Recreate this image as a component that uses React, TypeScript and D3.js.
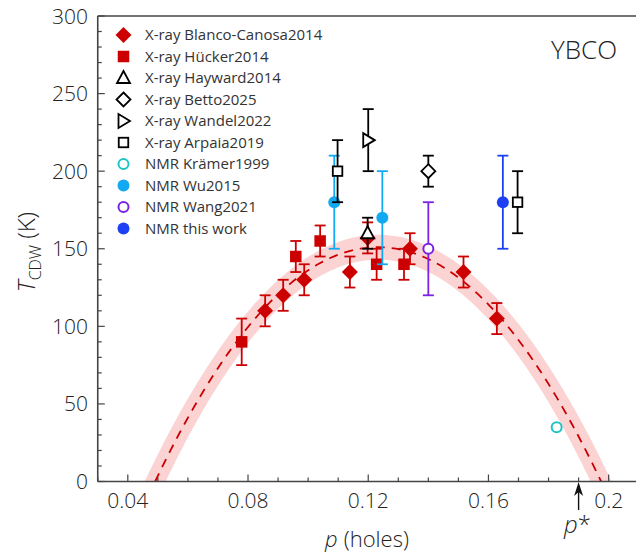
import React from "react";
import * as d3 from "d3";

// ---------- data ----------
const blancoP = [0.0857, 0.0917, 0.0987, 0.1139, 0.1198, 0.1339, 0.1517, 0.1628];
const blancoT = [110, 120, 130, 135, 157, 150, 135, 105];
const blancoE = [10, 10, 10, 10, 10, 10, 10, 10];

const huckerP = [0.0779, 0.0959, 0.104, 0.1228, 0.1319];
const huckerT = [90, 145, 155, 140, 140];
const huckerE = [15, 10, 10, 10, 10];

const haywardP = [0.1198];
const haywardT = [160];
const haywardE = [10];

const bettoP = [0.14];
const bettoT = [200];
const bettoE = [10];

const wandelP = [0.12];
const wandelT = [220];
const wandelE = [20];

const arpaiaP = [0.1098, 0.1697];
const arpaiaT = [200, 180];
const arpaiaE = [20, 20];

const kramerP = [0.1827];
const kramerT = [35];
const kramerE = [2];

const wuP = [0.1087, 0.1247];
const wuT = [180, 170];
const wuE = [30, 30];

const wangP = [0.14];
const wangT = [150];
const wangE = [30];

const thisP = [0.1648];
const thisT = [180];
const thisE = [30];

// parabolic guide (dome) parameters
const fitPeak = 151;
const fitCenter = 0.1233;
const fitHalfWidth = 0.0742;
const bandDT = 8;
const bandDW = 0.0035;

const xMajorTicks = [0.04, 0.08, 0.12, 0.16, 0.2];
const xTickLabels = ["0.04", "0.08", "0.12", "0.16", "0.2"];
const yMajorTicks = [0, 50, 100, 150, 200, 250, 300];
const pStar = 0.19;

const legendLabels = [
  "X-ray Blanco-Canosa2014",
  "X-ray Hücker2014",
  "X-ray Hayward2014",
  "X-ray Betto2025",
  "X-ray Wandel2022",
  "X-ray Arpaia2019",
  "NMR Krämer1999",
  "NMR Wu2015",
  "NMR Wang2021",
  "NMR this work",
];

// ---------- styling ----------
const RED = "#CC0000";
const LBLUE = "#12A8F2";
const CYAN = "#1EC4C4";
const PURPLE = "#7A22E6";
const BLUE = "#1E40F5";
const BLACK = "#000";
const FONT = "'Open Sans', 'Noto Sans', sans-serif";

type Shape = "diamond" | "square" | "triUp" | "triRight" | "circle";

function Marker({ shape, x, y, color, filled }: { shape: Shape; x: number; y: number; color: string; filled: boolean }) {
  const fill = filled ? color : "#fff";
  const sw = filled ? 0 : 1.8;
  if (shape === "diamond") {
    const h = filled ? 8 : 7;
    return <path d={`M${x},${y - h}L${x + h},${y}L${x},${y + h}L${x - h},${y}Z`} fill={fill} stroke={color} strokeWidth={sw} />;
  }
  if (shape === "square") {
    const s = filled ? 11.5 : 9.5;
    return <rect x={x - s / 2} y={y - s / 2} width={s} height={s} fill={fill} stroke={color} strokeWidth={sw} />;
  }
  if (shape === "triUp") {
    return <path d={`M${x},${y - 7}L${x + 6.5},${y + 5}L${x - 6.5},${y + 5}Z`} fill={fill} stroke={color} strokeWidth={sw} />;
  }
  if (shape === "triRight") {
    return <path d={`M${x + 6.5},${y}L${x - 5},${y - 7}L${x - 5},${y + 7}Z`} fill={fill} stroke={color} strokeWidth={sw} />;
  }
  const r = filled ? 6 : 5;
  return <circle cx={x} cy={y} r={r} fill={fill} stroke={color} strokeWidth={filled ? 0 : 2} />;
}

export default function App() {
  const W = 636;
  const H = 555;
  const x = d3.scaleLinear().domain([0.03, 0.21]).range([97.75, 638.7]);
  const y = d3.scaleLinear().domain([0, 300]).range([481.5, 16]);

  const series = [
    { P: blancoP, T: blancoT, E: blancoE, shape: "diamond" as Shape, color: RED, filled: true },
    { P: huckerP, T: huckerT, E: huckerE, shape: "square" as Shape, color: RED, filled: true },
    { P: kramerP, T: kramerT, E: kramerE, shape: "circle" as Shape, color: CYAN, filled: false },
    { P: wuP, T: wuT, E: wuE, shape: "circle" as Shape, color: LBLUE, filled: true },
    { P: wangP, T: wangT, E: wangE, shape: "circle" as Shape, color: PURPLE, filled: false },
    { P: thisP, T: thisT, E: thisE, shape: "circle" as Shape, color: BLUE, filled: true },
    { P: haywardP, T: haywardT, E: haywardE, shape: "triUp" as Shape, color: BLACK, filled: false },
    { P: bettoP, T: bettoT, E: bettoE, shape: "diamond" as Shape, color: BLACK, filled: false },
    { P: wandelP, T: wandelT, E: wandelE, shape: "triRight" as Shape, color: BLACK, filled: false },
    { P: arpaiaP, T: arpaiaT, E: arpaiaE, shape: "square" as Shape, color: BLACK, filled: false },
  ];

  const legendItems: { shape: Shape; color: string; filled: boolean }[] = [
    { shape: "diamond", color: RED, filled: true },
    { shape: "square", color: RED, filled: true },
    { shape: "triUp", color: BLACK, filled: false },
    { shape: "diamond", color: BLACK, filled: false },
    { shape: "triRight", color: BLACK, filled: false },
    { shape: "square", color: BLACK, filled: false },
    { shape: "circle", color: CYAN, filled: false },
    { shape: "circle", color: LBLUE, filled: true },
    { shape: "circle", color: PURPLE, filled: false },
    { shape: "circle", color: BLUE, filled: true },
  ];

  const dome = (p: number, A: number, w: number) => A * (1 - ((p - fitCenter) / w) ** 2);

  const pLo = fitCenter - fitHalfWidth;
  const pHi = fitCenter + fitHalfWidth;
  const fitPts = d3.range(0, 201).map((i) => {
    const p = pLo + ((pHi - pLo) * i) / 200;
    return [x(p), y(Math.max(0, dome(p, fitPeak, fitHalfWidth)))] as [number, number];
  });
  const fitPath = d3.line()(fitPts) || "";

  const wU = fitHalfWidth + bandDW;
  const wL = fitHalfWidth - bandDW;
  const upper = d3.range(0, 201).map((i) => {
    const p = fitCenter - wU + (2 * wU * i) / 200;
    return [x(p), y(Math.max(0, dome(p, fitPeak + bandDT, wU)))] as [number, number];
  });
  const lower = d3.range(0, 201).map((i) => {
    const p = fitCenter + wL - (2 * wL * i) / 200;
    return [x(p), y(Math.max(0, dome(p, fitPeak - bandDT, wL)))] as [number, number];
  });
  const bandPath = (d3.line()([...upper, ...lower]) || "") + "Z";

  const xMinor = d3.range(0.03, 0.2101, 0.01).map((v) => +v.toFixed(3));
  const yMinor = d3.range(0, 301, 10);
  const axisColor = "#444";

  return (
    <div style={{ position: "absolute", left: 0, top: 0 }}>
      <svg width={W} height={H} style={{ display: "block", background: "#fff" }} fontFamily={FONT}>
        <defs>
          <clipPath id="plotclip">
            <rect x={97.75} y={16} width={W} height={481.5 - 16} />
          </clipPath>
        </defs>

        <g clipPath="url(#plotclip)">
          <path d={bandPath} fill="#FBD3D3" stroke="none" />
          <path d={fitPath} fill="none" stroke={RED} strokeWidth={1.8} strokeDasharray="9,7" />
        </g>

        <line x1={97.75} x2={W} y1={16} y2={16} stroke={axisColor} strokeWidth={1.6} />
        <line x1={97.75} x2={W} y1={481.5} y2={481.5} stroke={axisColor} strokeWidth={1.6} />
        <line x1={97.75} x2={97.75} y1={16} y2={481.5} stroke={axisColor} strokeWidth={1.6} />

        {xMinor.map((v) => {
          const major = xMajorTicks.some((m) => Math.abs(m - v) < 1e-6);
          return <line key={"xt" + v} x1={x(v)} x2={x(v)} y1={481.5} y2={481.5 - (major ? 7 : 4)} stroke={axisColor} strokeWidth={1.2} />;
        })}
        {xMajorTicks.map((v, i) => (
          <text key={"xl" + v} x={x(v)} y={508} textAnchor="middle" fontSize={21} fontWeight={300} fill="#222">
            {xTickLabels[i]}
          </text>
        ))}

        {yMinor.map((v) => {
          const major = v % 50 === 0;
          return <line key={"yt" + v} x1={97.75} x2={97.75 + (major ? 7 : 4)} y1={y(v)} y2={y(v)} stroke={axisColor} strokeWidth={1.2} />;
        })}
        {yMajorTicks.map((v) => (
          <text key={"yl" + v} x={88} y={y(v)} dy="0.36em" textAnchor="end" fontSize={21} fontWeight={300} fill="#222">
            {v}
          </text>
        ))}

        <text x={367} y={547} textAnchor="middle" fontSize={22} fontWeight={300} fill="#222">
          <tspan fontStyle="italic">p</tspan>
          <tspan dx={6}>(holes)</tspan>
        </text>
        <text transform="translate(35,252) rotate(-90)" textAnchor="middle" fontSize={24} fontWeight={300} fill="#222">
          <tspan fontStyle="italic">T</tspan>
          <tspan fontSize={16} dy={6}>CDW</tspan>
          <tspan dy={-6} dx={6}>(K)</tspan>
        </text>

        <line x1={x(pStar)} x2={x(pStar)} y1={510} y2={488} stroke="#111" strokeWidth={1.4} />
        <path d={`M${x(pStar)},${482}L${x(pStar) + 4.5},${496}L${x(pStar)},${492}L${x(pStar) - 4.5},${496}Z`} fill="#111" />
        <text x={564} y={533} fontSize={24} fontWeight={300} fill="#222">
          <tspan fontStyle="italic">p</tspan>*
        </text>

        <text x={551} y={59} fontSize={26} fontWeight={300} fill="#222">YBCO</text>

        {series.map((s, si) => (
          <g key={"s" + si}>
            {s.P.map((p, i) => {
              const cx = x(p);
              const t = s.T[i];
              const e = s.E[i];
              const cap = e < 5 ? 3 : 5.5;
              return (
                <g key={i}>
                  <line x1={cx} x2={cx} y1={y(t + e)} y2={y(t - e)} stroke={s.color} strokeWidth={1.8} />
                  <line x1={cx - cap} x2={cx + cap} y1={y(t + e)} y2={y(t + e)} stroke={s.color} strokeWidth={1.8} />
                  <line x1={cx - cap} x2={cx + cap} y1={y(t - e)} y2={y(t - e)} stroke={s.color} strokeWidth={1.8} />
                  <Marker shape={s.shape} x={cx} y={y(t)} color={s.color} filled={s.filled} />
                </g>
              );
            })}
          </g>
        ))}

        {legendLabels.map((lab, i) => {
          const ly = 35 + i * 21.5;
          const it = legendItems[i];
          return (
            <g key={"lg" + i}>
              <Marker shape={it.shape} x={123.5} y={ly} color={it.color} filled={it.filled} />
              <text x={145} y={ly} dy="0.35em" fontSize={15} fontWeight={400} fill="#333">
                {lab}
              </text>
            </g>
          );
        })}
      </svg>
    </div>
  );
}
